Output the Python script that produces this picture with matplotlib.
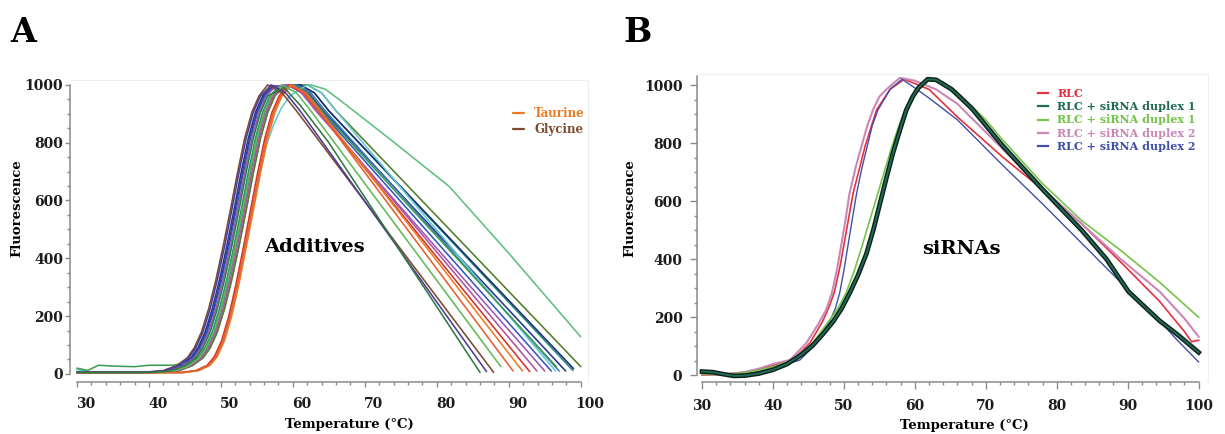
import matplotlib
matplotlib.use("Agg")
import matplotlib.pyplot as plt
from matplotlib.ticker import MultipleLocator
from matplotlib.transforms import ScaledTranslation

plt.rcParams["font.family"] = "DejaVu Serif"
plt.rcParams["font.weight"] = "bold"

# ---- panel A: thermal melt curves with additives ----
RISE = [10, 28, 55, 90, 145, 225, 325, 440, 565, 695, 815, 905, 962]
RISE_LATE = [5, 12, 30, 60, 115, 200, 310, 435, 565, 695, 815, 905, 962]
TOP = [1000, 972, 910]

glycine_t = [30, 38.8, 41.8, 43.8, 45.3, 46.3, 47.3, 48.3, 49.3, 50.3, 51.3, 52.3, 53.3, 54.3, 55.3, 56.5, 58.5, 60.5, 87.9]
glycine_f = [5, 5] + RISE + TOP + [5]

purple_t = [30, 39, 42, 44, 45.5, 46.5, 47.5, 48.5, 49.5, 50.5, 51.5, 52.5, 53.5, 54.5, 55.5, 57, 59, 61, 86.9]
purple_f = [6, 6] + RISE + TOP + [8]

dkgreen_t = [30, 40, 43, 45, 46.5, 47.5, 48.5, 49.5, 50.5, 51.5, 52.5, 53.5, 54.5, 55.5, 56.5, 58.8, 61, 65, 86.0]
dkgreen_f = [5, 5] + RISE + [990, 930, 800, 5]

ltgreen_t = [30, 40.5, 43.5, 45.5, 47, 48, 49, 50, 51, 52, 53, 54, 55, 56, 57, 58.5, 60.5, 62.5, 88.9]
ltgreen_f = [5, 5] + RISE + TOP + [25]

orangered_t = [30, 41.8, 44.8, 46.8, 48.3, 49.3, 50.3, 51.3, 52.3, 53.3, 54.3, 55.3, 56.3, 57.3, 58.3, 59.6, 61.6, 63.6, 90.6]
orangered_f = [5, 5] + RISE_LATE + TOP + [10]

taurine_t = [30, 42, 45, 47, 48.5, 49.5, 50.5, 51.5, 52.5, 53.5, 54.5, 55.5, 56.5, 57.5, 58.5, 59.8, 61.8, 63.8, 91.9]
taurine_f = [4, 4] + RISE_LATE + TOP + [10]

red_t = [30, 41.6, 44.6, 46.6, 48.1, 49.1, 50.1, 51.1, 52.1, 53.1, 54.1, 55.1, 56.1, 57.1, 58.1, 59.5, 61.5, 63.5, 92.9]
red_f = [5, 5] + RISE_LATE + TOP + [8]

magenta_t = [30, 40.8, 43.8, 45.8, 47.3, 48.3, 49.3, 50.3, 51.3, 52.3, 53.3, 54.3, 55.3, 56.3, 57.3, 59.5, 61.5, 63.5, 93.9]
magenta_f = [5, 5] + RISE + TOP + [10]

violet_t = [30, 39.8, 42.8, 44.8, 46.3, 47.3, 48.3, 49.3, 50.3, 51.3, 52.3, 53.3, 54.3, 55.3, 56.3, 57.6, 59.2, 61.2, 63.2, 95.0]
violet_f = [5, 5] + RISE + [995] + TOP + [10]

blue_t = [30, 39.6, 42.6, 44.6, 46.1, 47.1, 48.1, 49.1, 50.1, 51.1, 52.1, 53.1, 54.1, 55.1, 56.1, 57.4, 59.8, 61.8, 63.8, 95.9]
blue_f = [6, 6] + RISE + [995] + TOP + [10]

cyan_t = [30, 32, 41.8, 44.8, 46.8, 48.3, 49.3, 50.3, 51.3, 52.3, 53.3, 54.3, 55.3, 56.3, 57.3, 58.3, 59.5, 62, 64, 66, 96.5]
cyan_f = [15, 6, 5, 5, 12, 30, 60, 115, 200, 310, 435, 565, 680, 790, 860, 915, 960] + TOP + [10]

green_t = [30, 31.5, 33, 35, 38, 40, 43.4, 45.4, 46.9, 47.9, 48.9, 49.9, 50.9, 51.9, 52.9, 53.9, 54.9, 55.9, 56.9, 60, 62, 64, 96.6]
green_f = [20, 12, 30, 27, 25, 30, 30, 40, 60, 92, 145, 225, 325, 440, 565, 695, 815, 905, 962] + TOP + [25]

steel_t = [30, 40.6, 43.6, 45.6, 47.1, 48.1, 49.1, 50.1, 51.1, 52.1, 53.1, 54.1, 55.1, 56.1, 57.1, 58.4, 60.5, 62.5, 64.5, 97.0]
steel_f = [5, 5] + RISE + [995] + TOP + [10]

navy_t = [30, 39.3, 42.3, 44.3, 45.8, 46.8, 47.8, 48.8, 49.8, 50.8, 51.8, 52.8, 53.8, 54.8, 55.8, 57.1, 60.2, 62.2, 64.2, 97.9]
navy_f = [5, 5] + RISE + [995] + TOP + [10]

teal_t = [30, 40.3, 43.3, 45.3, 46.8, 47.8, 48.8, 49.8, 50.8, 51.8, 52.8, 53.8, 54.8, 55.8, 56.8, 58.1, 61, 63, 65, 98.9]
teal_f = [5, 5] + RISE + [995] + TOP + [12]

slate_t = [30, 39.5, 42.5, 44.5, 46, 47, 48, 49, 50, 51, 52, 53, 54, 55, 56, 57.3, 61, 63, 65, 99.0]
slate_f = [6, 6] + RISE + [995] + TOP + [18]

olive_t = [30, 41, 44, 46, 47.5, 48.5, 49.5, 50.5, 51.5, 52.5, 53.5, 54.5, 55.5, 56.5, 57.5, 58.8, 62, 64, 66, 100]
olive_f = [5, 5] + RISE + [995] + TOP + [25]

longgreen_t = [30, 41, 44, 46, 47.5, 48.5, 49.5, 50.5, 51.5, 52.5, 53.5, 54.5, 55.5, 56.5, 57.5, 58.8, 62.5, 64.5, 66.5, 73.6, 81.7, 89.9, 100]
longgreen_f = [5, 5] + RISE + [995, 1000, 985, 948, 810, 649, 420, 128]

curves_a = [
    (longgreen_t, longgreen_f, "#5fbf7c", None),
    (olive_t, olive_f, "#4f7f2a", None),
    (teal_t, teal_f, "#1d8c84", None),
    (slate_t, slate_f, "#1f2f6e", None),
    (navy_t, navy_f, "#2a3590", None),
    (steel_t, steel_f, "#3c76bc", None),
    (cyan_t, cyan_f, "#63c8d2", None),
    (green_t, green_f, "#3e9c50", None),
    (blue_t, blue_f, "#3458c0", None),
    (violet_t, violet_f, "#9a58b4", None),
    (magenta_t, magenta_f, "#b3509e", None),
    (red_t, red_f, "#d8302a", None),
    (taurine_t, taurine_f, "#ec7a22", "Taurine"),
    (orangered_t, orangered_f, "#e4602e", None),
    (ltgreen_t, ltgreen_f, "#62b85a", None),
    (glycine_t, glycine_f, "#7a4b2e", "Glycine"),
    (purple_t, purple_f, "#4c3a96", None),
    (dkgreen_t, dkgreen_f, "#2f7a40", None),
]

# ---- panel B: siRNA duplexes ----
rlc_t = [30, 33, 36, 38, 40, 42.8, 45.2, 47, 48, 48.7, 49.5, 50.3, 51.3, 53, 54.6, 56.5, 58.5, 62, 66, 72.4, 78, 83.5, 89, 94.5, 98, 99, 100]
rlc_f = [0, 2, 10, 20, 33, 52, 110, 185, 240, 290, 380, 490, 627, 790, 914, 985, 1020, 985, 890, 751, 640, 522, 390, 254, 150, 115, 120]

dup1_dark_t = [30, 31.5, 33, 34.5, 36, 38, 40, 42, 44, 45.5, 47, 48.5, 49.7, 50.8, 52, 53.2, 54.2, 55.1, 56, 56.9, 57.9, 58.8, 59.7, 60.5, 61.8, 63, 65.2, 68, 72.4, 78, 83.5, 87, 90.1, 94.5, 97, 100]
dup1_dark_f = [12, 10, 3, -3, -2, 5, 18, 38, 70, 100, 140, 185, 230, 282, 345, 420, 505, 593, 680, 764, 845, 914, 960, 990, 1020, 1018, 985, 920, 790, 640, 500, 400, 288, 187, 140, 78]

dup1_light_t = [30, 33, 36, 38, 40, 42.8, 45.6, 48, 49.2, 50.3, 51.4, 52.5, 53.6, 54.8, 55.8, 56.8, 57.7, 58.6, 60.5, 62, 64, 66, 70, 72.4, 78, 83.5, 89, 94.5, 100]
dup1_light_f = [3, 2, 8, 16, 28, 52, 110, 190, 232, 282, 355, 440, 530, 627, 710, 790, 855, 914, 985, 1015, 1010, 975, 880, 810, 660, 533, 430, 320, 199]

dup2_pink_t = [30, 33, 36, 38, 40, 42.4, 44.7, 46.5, 47.5, 48.3, 49, 49.5, 50.2, 50.8, 51.7, 52.5, 53.3, 54.1, 55, 56, 57.9, 60, 63, 66, 72.4, 77, 83.5, 89, 94.5, 98, 100]
dup2_pink_f = [2, 2, 10, 22, 38, 52, 110, 180, 225, 282, 360, 430, 530, 627, 720, 790, 860, 914, 960, 985, 1025, 1015, 985, 935, 779, 665, 522, 400, 288, 195, 132]

dup2_blue_t = [30, 33, 35, 38, 40, 43.8, 46.2, 48, 48.8, 49.4, 50, 50.6, 51.2, 51.8, 52.5, 53.3, 54, 54.8, 56.5, 58.2, 60, 62, 66, 72.4, 78, 83.5, 89, 94.5, 97, 100]
dup2_blue_f = [5, 1, 2, 12, 22, 52, 110, 185, 230, 282, 360, 450, 540, 627, 710, 790, 860, 914, 985, 1020, 990, 955, 880, 723, 590, 455, 320, 187, 120, 45]

labels_b = ["RLC", "RLC + siRNA duplex 1", "RLC + siRNA duplex 1",
            "RLC + siRNA duplex 2", "RLC + siRNA duplex 2"]
colors_b = ["#e3313f", "#2a7a62", "#74c447", "#c987b6", "#4050a8"]

x_ticks = [30, 40, 50, 60, 70, 80, 90, 100]
y_ticks = [0, 200, 400, 600, 800, 1000]

fig = plt.figure(figsize=(12.25, 4.34), dpi=100)
ax_a = fig.add_axes([0.0571, 0.1198, 0.4229, 0.696])
ax_b = fig.add_axes([0.569, 0.1198, 0.417, 0.7097])

for t, f, c, lab in curves_a:
    ax_a.plot(t, f, color=c, lw=1.15, label=lab, solid_capstyle="round", solid_joinstyle="round")

ax_b.plot(rlc_t, rlc_f, color=colors_b[0], lw=1.2, label=labels_b[0])
ax_b.plot(dup2_pink_t, dup2_pink_f, color=colors_b[3], lw=1.5, label=labels_b[3])
ax_b.plot(dup2_blue_t, dup2_blue_f, color=colors_b[4], lw=1.0, label=labels_b[4])
ax_b.plot(dup1_light_t, dup1_light_f, color=colors_b[2], lw=1.2, label=labels_b[2])
ax_b.plot(dup1_dark_t, dup1_dark_f, color="#0d1f18", lw=3.4, solid_joinstyle="round")
ax_b.plot(dup1_dark_t, dup1_dark_f, color="#1f6a55", lw=1.4, label=labels_b[1], solid_joinstyle="round")


def style_axes(ax, ylim, ybound, tick_len, ypad):
    ax.set_ylim(*ylim)
    ax.set_xticks(x_ticks)
    ax.set_yticks(y_ticks)
    ax.xaxis.set_minor_locator(MultipleLocator(2))
    ax.yaxis.set_minor_locator(MultipleLocator(50))
    for side in ["left", "bottom"]:
        ax.spines[side].set_color("#8a8a8a")
        ax.spines[side].set_linewidth(1.1)
    for side in ["top", "right"]:
        ax.spines[side].set_color("#efefef")
        ax.spines[side].set_linewidth(0.8)
    ax.spines["left"].set_bounds(*ybound)
    ax.spines["bottom"].set_bounds(30, 100)
    ax.tick_params(axis="both", which="both", direction="out", color="#8a8a8a",
                   labelsize=10, labelcolor="#1c1c1c", width=1.0)
    ax.tick_params(axis="both", which="major", length=tick_len)
    ax.tick_params(axis="both", which="minor", length=2.5)
    ax.tick_params(axis="y", which="major", pad=ypad)
    ax.tick_params(axis="x", which="major", pad=7)
    ax.set_xlabel("Temperature (°C)", fontsize=9.5, fontweight="bold", va="center")
    ax.set_ylabel("Fluorescence", fontsize=9.5, fontweight="bold", va="center")


ax_a.set_xlim(29.03, 101)
style_axes(ax_a, (-28, 1017), (0, 1000), 3.8, 1.0)
ax_b.set_xlim(29.3, 101.3)
style_axes(ax_b, (-24, 1038), (0, 1030), 5.0, 5.5)

# x tick labels of panel A sit a little right of their ticks
shift = ScaledTranslation(9 / 100, 0, fig.dpi_scale_trans)
for lab in ax_a.get_xticklabels():
    lab.set_transform(lab.get_transform() + shift)

ax_a.xaxis.set_label_coords(0.54, -0.142)
ax_a.yaxis.set_label_coords(-0.102, 0.576)
ax_b.xaxis.set_label_coords(0.524, -0.14)
ax_b.yaxis.set_label_coords(-0.131, 0.565)

ax_a.text(63, 440, "Additives", fontsize=14, fontweight="bold", ha="center", va="center")
ax_b.text(66.5, 434, "siRNAs", fontsize=14, fontweight="bold", ha="center", va="center")

leg_a = ax_a.legend(loc="upper left", bbox_to_anchor=(0.855, 0.91), frameon=False,
                    handlelength=0.9, handletextpad=0.9, labelspacing=0.25,
                    prop={"size": 8.5, "weight": "bold"}, labelcolor="linecolor",
                    borderaxespad=0, borderpad=0)
handles, labels = ax_b.get_legend_handles_labels()
order = [0, 4, 3, 1, 2]
leg_b = ax_b.legend([handles[i] for i in order], [labels[i] for i in order],
                    loc="upper left", bbox_to_anchor=(0.668, 0.956), frameon=False,
                    handlelength=0.9, handletextpad=0.8, labelspacing=0.22,
                    prop={"size": 8, "weight": "bold"}, labelcolor="linecolor",
                    borderaxespad=0, borderpad=0)
for line in leg_a.get_lines() + leg_b.get_lines():
    line.set_linewidth(1.6)

fig.text(23 / 1225, 1 - 32 / 434, "A", fontsize=24, fontweight="bold", ha="center", va="center")
fig.text(638 / 1225, 1 - 32 / 434, "B", fontsize=24, fontweight="bold", ha="center", va="center")

fig.savefig("out.png", dpi=100)
